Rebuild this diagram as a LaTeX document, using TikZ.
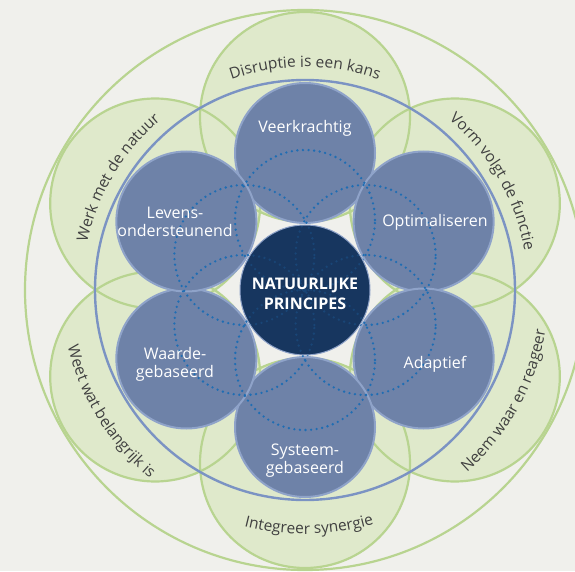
\documentclass[tikz,border=0pt]{standalone}
\usepackage{fontspec}
\setmainfont{Open Sans}
\usetikzlibrary{decorations.text}
\definecolor{bg}{HTML}{F0F0EC}
\definecolor{gfill}{HTML}{DFE9CB}
\definecolor{gline}{HTML}{B8D490}
\definecolor{ring}{HTML}{7B93C3}
\definecolor{bfill}{HTML}{6E82A8}
\definecolor{bline}{HTML}{8FA3C9}
\definecolor{dark}{HTML}{17365F}
\definecolor{dots}{HTML}{1F6DB3}
\definecolor{txt}{HTML}{404040}
\tikzset{
  greenline/.style={draw=gline, line width=2.2pt},
  ringline/.style={draw=ring, line width=2.4pt},
  bluecirc/.style={fill=bfill, draw=bline, line width=2pt},
  dotcirc/.style={draw=dots, line width=2.6pt, line cap=round, dash pattern=on 0pt off 5.6pt},
  lbl/.style={text=white, font=\fontsize{16}{18}\selectfont, align=center, inner sep=0pt},
  centerlbl/.style={text=white, font=\bfseries\fontsize{16}{20.5}\selectfont, align=center, inner sep=0pt},
  arctext/.style={decorate, decoration={text along path, text align=center, text color=txt, text={|\fontsize{15.5}{17}\selectfont|#1}}},
}
\begin{document}
\begin{tikzpicture}[x=1pt,y=1pt]
\useasboundingbox (0,0) rectangle (575,571);
\clip (0,0) rectangle (575,571);
\fill[bg] (0,0) rectangle (575,571);
\begin{scope}[shift={(305,281)}]
  % green petals
  \foreach \a in {90,30,-30,-90,-150,150}
    \fill[gfill] (\a:173) circle (105);
  \foreach \a in {90,30,-30,-90,-150,150}
    \draw[greenline] (\a:173) circle (105);
  \draw[greenline] (0,0) circle (280);
  % curved texts
  \path[arctext={Disruptie is een kans}] (120:223) arc[start angle=120, end angle=60, radius=223];
  \path[arctext={Vorm volgt de functie}] (60:223) arc[start angle=60, end angle=0, radius=223];
  \path[arctext={Werk met de natuur}] (179:223) arc[start angle=179, end angle=119, radius=223];
  \path[arctext={Integreer synergie}] (241:244) arc[start angle=241, end angle=301, radius=244];
  \path[arctext={Weet wat belangrijk is}] (182:244) arc[start angle=182, end angle=242, radius=244];
  \path[arctext={Neem waar en reageer}] (301:244) arc[start angle=301, end angle=361, radius=244];
  % blue ring
  \draw[ringline] (0,0) circle (210);
  % blue circles
  \foreach \a in {90,30,-30,-90,-150,150}
    \draw[bluecirc] (\a:137) circle (70);
  % center
  \fill[dark] (0,0) circle (65);
  \foreach \a in {90,30,-30,-90,-150,150}
    \draw[dotcirc] (\a:70) circle (70);
  \fill[dark, fill opacity=0.72] (0,0) circle (65);
  \draw[draw=bline, line width=1pt] (0,0) circle (65);
\end{scope}
\node[lbl] (veer) at (305,443) {Veerkrachtig};
\node[lbl] (opt) at (435,349) {Optimaliseren};
\node[lbl] (adap) at (435,207) {Adaptief};
\node[lbl] (sys) at (305,110) {Systeem-\\gebaseerd};
\node[lbl] (waar) at (175,207) {Waarde-\\gebaseerd};
\node[lbl] (lev) at (175,349.5) {Levens-\\ondersteunend};
\node[centerlbl] (nat) at (305,277) {NATUURLIJKE\\PRINCIPES};
\end{tikzpicture}
\end{document}
